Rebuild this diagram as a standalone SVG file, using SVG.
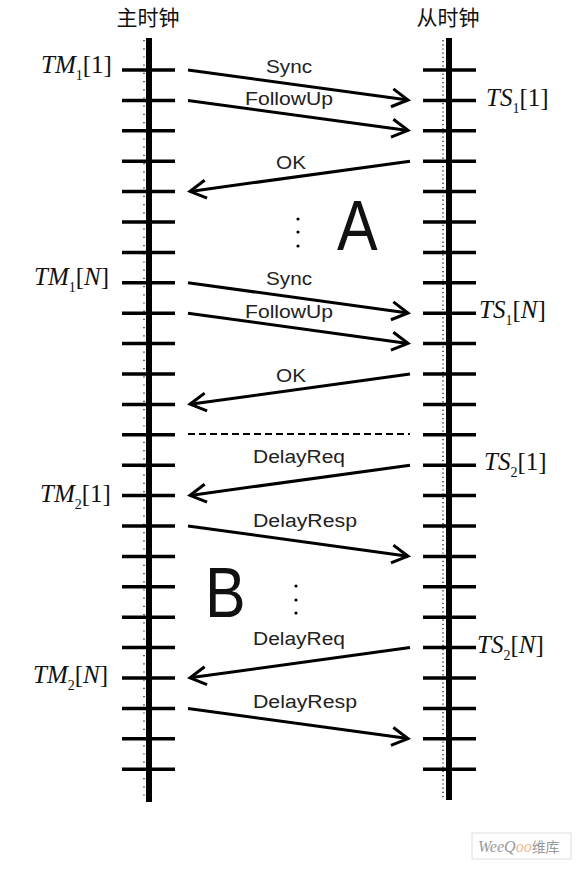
<svg xmlns="http://www.w3.org/2000/svg" width="578" height="869" viewBox="0 0 578 869">
<style>
.axis{stroke:#000;stroke-width:6;fill:none}
.tick{stroke:#000;stroke-width:3.5}
.dots{stroke:#000;stroke-width:1.2;fill:none}
.msg{stroke:#000;stroke-width:3;fill:none}
.hdr{font-family:"Noto Sans CJK SC","Noto Sans",sans-serif;font-size:21px;fill:#111;text-anchor:middle}
.lbl{font-family:"Liberation Sans",Arial,sans-serif;font-size:18px;fill:#222}
.math{font-family:"Liberation Serif","DejaVu Serif",serif;font-size:25px;fill:#111}
.big{font-family:"Liberation Sans",Arial,sans-serif;font-size:70px;fill:#111}
</style>
<defs>
<marker id="arr" markerUnits="userSpaceOnUse" markerWidth="30" markerHeight="30" viewBox="-20 -15 30 30" refX="0" refY="0" orient="auto">
<path d="M-16,-9 L0,0 L-16,9" fill="none" stroke="#000" stroke-width="3"/>
</marker>
</defs>

<g id="master">
<text class="hdr" x="148" y="25">主时钟</text>
<line class="axis" x1="149" y1="38" x2="149" y2="802"/>
<line class="dots" x1="144" y1="40" x2="144" y2="800" stroke-dasharray="1.2 7"/>
<g class="tick">
<line x1="122" y1="70" x2="175" y2="70"/><line x1="122" y1="100.4" x2="175" y2="100.4"/><line x1="122" y1="130.8" x2="175" y2="130.8"/><line x1="122" y1="161.2" x2="175" y2="161.2"/><line x1="122" y1="191.6" x2="175" y2="191.6"/><line x1="122" y1="222" x2="175" y2="222"/><line x1="122" y1="252.4" x2="175" y2="252.4"/><line x1="122" y1="282.8" x2="175" y2="282.8"/><line x1="122" y1="313.2" x2="175" y2="313.2"/><line x1="122" y1="343.6" x2="175" y2="343.6"/><line x1="122" y1="374" x2="175" y2="374"/><line x1="122" y1="404.4" x2="175" y2="404.4"/><line x1="122" y1="434.8" x2="175" y2="434.8"/><line x1="122" y1="465.2" x2="175" y2="465.2"/><line x1="122" y1="495.6" x2="175" y2="495.6"/><line x1="122" y1="526" x2="175" y2="526"/><line x1="122" y1="556.4" x2="175" y2="556.4"/><line x1="122" y1="586.8" x2="175" y2="586.8"/><line x1="122" y1="617.2" x2="175" y2="617.2"/><line x1="122" y1="647.6" x2="175" y2="647.6"/><line x1="122" y1="678" x2="175" y2="678"/><line x1="122" y1="708.4" x2="175" y2="708.4"/><line x1="122" y1="738.8" x2="175" y2="738.8"/><line x1="122" y1="769.2" x2="175" y2="769.2"/>
</g>
<text class="math" x="41" y="73"><tspan font-style="italic">TM</tspan><tspan font-size="14" dy="7">1</tspan><tspan dy="-7">[1]</tspan></text>
<text class="math" x="34" y="285"><tspan font-style="italic">TM</tspan><tspan font-size="14" dy="7">1</tspan><tspan dy="-7">[</tspan><tspan font-style="italic">N</tspan><tspan>]</tspan></text>
<text class="math" x="40" y="502"><tspan font-style="italic">TM</tspan><tspan font-size="14" dy="7">2</tspan><tspan dy="-7">[1]</tspan></text>
<text class="math" x="33" y="683"><tspan font-style="italic">TM</tspan><tspan font-size="14" dy="7">2</tspan><tspan dy="-7">[</tspan><tspan font-style="italic">N</tspan><tspan>]</tspan></text>
</g>

<g id="slave">
<text class="hdr" x="448" y="25">从时钟</text>
<line class="axis" x1="449" y1="38" x2="449" y2="800"/>
<line class="dots" x1="443" y1="40" x2="443" y2="800" stroke-dasharray="1.2 3"/>
<g class="tick">
<line x1="423" y1="70" x2="476" y2="70"/><line x1="423" y1="100.4" x2="476" y2="100.4"/><line x1="423" y1="130.8" x2="476" y2="130.8"/><line x1="423" y1="161.2" x2="476" y2="161.2"/><line x1="423" y1="191.6" x2="476" y2="191.6"/><line x1="423" y1="222" x2="476" y2="222"/><line x1="423" y1="252.4" x2="476" y2="252.4"/><line x1="423" y1="282.8" x2="476" y2="282.8"/><line x1="423" y1="313.2" x2="476" y2="313.2"/><line x1="423" y1="343.6" x2="476" y2="343.6"/><line x1="423" y1="374" x2="476" y2="374"/><line x1="423" y1="404.4" x2="476" y2="404.4"/><line x1="423" y1="434.8" x2="476" y2="434.8"/><line x1="423" y1="465.2" x2="476" y2="465.2"/><line x1="423" y1="495.6" x2="476" y2="495.6"/><line x1="423" y1="526" x2="476" y2="526"/><line x1="423" y1="556.4" x2="476" y2="556.4"/><line x1="423" y1="586.8" x2="476" y2="586.8"/><line x1="423" y1="617.2" x2="476" y2="617.2"/><line x1="423" y1="647.6" x2="476" y2="647.6"/><line x1="423" y1="678" x2="476" y2="678"/><line x1="423" y1="708.4" x2="476" y2="708.4"/><line x1="423" y1="738.8" x2="476" y2="738.8"/><line x1="423" y1="769.2" x2="476" y2="769.2"/>
</g>
<text class="math" x="486" y="106"><tspan font-style="italic">TS</tspan><tspan font-size="14" dy="7">1</tspan><tspan dy="-7">[1]</tspan></text>
<text class="math" x="479" y="318"><tspan font-style="italic">TS</tspan><tspan font-size="14" dy="7">1</tspan><tspan dy="-7">[</tspan><tspan font-style="italic">N</tspan><tspan>]</tspan></text>
<text class="math" x="484" y="470"><tspan font-style="italic">TS</tspan><tspan font-size="14" dy="7">2</tspan><tspan dy="-7">[1]</tspan></text>
<text class="math" x="477" y="653"><tspan font-style="italic">TS</tspan><tspan font-size="14" dy="7">2</tspan><tspan dy="-7">[</tspan><tspan font-style="italic">N</tspan><tspan>]</tspan></text>
</g>

<g id="connectors">
<line class="msg" x1="188" y1="70" x2="408" y2="100" marker-end="url(#arr)"/>
<line class="msg" x1="188" y1="100.4" x2="408" y2="130.4" marker-end="url(#arr)"/>
<line class="msg" x1="410" y1="161.2" x2="190" y2="191.4" marker-end="url(#arr)"/>
<line class="msg" x1="188" y1="282.8" x2="408" y2="313" marker-end="url(#arr)"/>
<line class="msg" x1="188" y1="313.2" x2="408" y2="343.4" marker-end="url(#arr)"/>
<line class="msg" x1="410" y1="374" x2="190" y2="404.2" marker-end="url(#arr)"/>
<line x1="188" y1="434" x2="410" y2="434" stroke="#000" stroke-width="2" stroke-dasharray="7 4"/>
<line class="msg" x1="410" y1="465.2" x2="190" y2="495.4" marker-end="url(#arr)"/>
<line class="msg" x1="188" y1="526" x2="408" y2="556.2" marker-end="url(#arr)"/>
<line class="msg" x1="410" y1="647.6" x2="190" y2="677.8" marker-end="url(#arr)"/>
<line class="msg" x1="188" y1="708.4" x2="408" y2="738.6" marker-end="url(#arr)"/>
<text class="lbl" x="266" y="73" textLength="46" lengthAdjust="spacingAndGlyphs">Sync</text>
<text class="lbl" x="245" y="105" textLength="88" lengthAdjust="spacingAndGlyphs">FollowUp</text>
<text class="lbl" x="276" y="169" textLength="30" lengthAdjust="spacingAndGlyphs">OK</text>
<text class="lbl" x="266" y="285" textLength="46" lengthAdjust="spacingAndGlyphs">Sync</text>
<text class="lbl" x="245" y="318" textLength="88" lengthAdjust="spacingAndGlyphs">FollowUp</text>
<text class="lbl" x="276" y="382" textLength="30" lengthAdjust="spacingAndGlyphs">OK</text>
<text class="lbl" x="253" y="463" textLength="92" lengthAdjust="spacingAndGlyphs">DelayReq</text>
<text class="lbl" x="253" y="527" textLength="104" lengthAdjust="spacingAndGlyphs">DelayResp</text>
<text class="lbl" x="253" y="645" textLength="92" lengthAdjust="spacingAndGlyphs">DelayReq</text>
<text class="lbl" x="253" y="708" textLength="104" lengthAdjust="spacingAndGlyphs">DelayResp</text>
</g>

<g id="regionA">
<text class="big" transform="translate(337,250) scale(0.87,1)">A</text>
<circle cx="298" cy="219" r="1.6"/><circle cx="298" cy="232" r="1.6"/><circle cx="298" cy="246" r="1.6"/>
</g>
<g id="regionB">
<text class="big" transform="translate(205,617) scale(0.87,1)">B</text>
<circle cx="296" cy="586" r="1.6"/><circle cx="296" cy="600" r="1.6"/><circle cx="296" cy="613" r="1.6"/>
</g>

<g id="watermark">
<rect x="472" y="833" width="99" height="26" fill="#fff" stroke="#ddd" stroke-width="1"/>
<text x="478" y="852" font-family="'Liberation Serif','Noto Sans CJK SC',serif" font-size="16" font-style="italic" fill="#999">WeeQ<tspan fill="#f0b890">oo</tspan><tspan font-style="normal" font-family="'Noto Sans CJK SC',sans-serif" font-size="14">维库</tspan></text>
</g>
</svg>
